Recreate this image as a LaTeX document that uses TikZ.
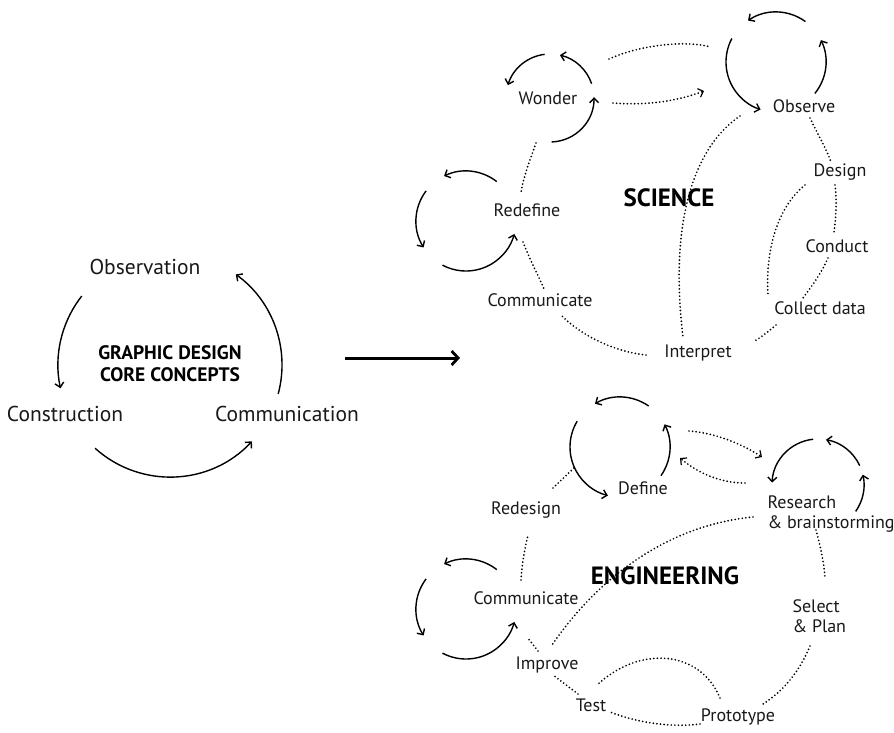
\documentclass[tikz,border=0pt]{standalone}
\usepackage{fontspec}
\setmainfont{PT Sans}
\usetikzlibrary{arrows.meta}
\begin{document}
\begin{tikzpicture}[x=1pt,y=-1pt,
  cyc/.style={line width=1.4pt,-{Straight Barb[length=4.5pt,width=9pt,line width=1.4pt]}},
  dots/.style={line width=1.9pt,line cap=round,dash pattern=on 0pt off 3.6pt},
  dotarrow/.style={dots,-{Straight Barb[length=4.5pt,width=9pt,line width=1.2pt]}},
  biglabel/.style={font=\fontsize{21.5}{24}\selectfont,text=black!90},
  lbl/.style={font=\fontsize{18}{20.5}\selectfont,text=black!90},
  title/.style={font=\fontsize{25}{28}\selectfont\bfseries,text=black},
  subtitle/.style={font=\fontsize{19.5}{22}\selectfont\bfseries,text=black,align=center}]
\useasboundingbox (0,0) rectangle (894,733);
\fill[white] (0,0) rectangle (894,733);

% ---------- left cycle ----------
\coordinate (L) at (170,365);
\node[biglabel] (obs) at (145,267) {Observation};
\node[biglabel] (cons) at (65,414) {Construction};
\node[biglabel] (comm) at (287,414) {Communication};
\node[subtitle] (gd) at (170,364) {GRAPHIC DESIGN\\CORE CONCEPTS};
\draw[cyc] ([shift={(-142:112)}]L) arc[start angle=-142,end angle=-192,radius=112];
\draw[cyc] ([shift={(15:112)}]L) arc[start angle=15,end angle=-54,radius=112];
\draw[cyc] ([shift={(-228:112)}]L) arc[start angle=-228,end angle=-317,radius=112];

% big arrow
\coordinate (ba) at (345,358);
\coordinate (bb) at (460,358);
\draw[line width=3pt,-{Straight Barb[length=6.5pt,width=14pt,line width=2.8pt]}] (ba) -- (bb);

% ---------- science ----------
\node[title] (sci) at (669,198) {SCIENCE};
\node[lbl] (wonder) at (548,98) {Wonder};
\node[lbl] (redef) at (527,210) {Redefine};
\node[lbl] (scomm) at (540,300) {Communicate};
\node[lbl] (interp) at (698,353) {Interpret};
\node[lbl] (observe) at (804,106) {Observe};
\node[lbl] (design) at (840,172) {Design};
\node[lbl] (conduct) at (837,246) {Conduct};
\node[lbl] (collect) at (820,308) {Collect data};

\coordinate (W) at (550,98);
\draw[cyc] ([shift={(-97:44)}]W) arc[start angle=-97,end angle=-163,radius=44];
\draw[cyc] ([shift={(-19:44)}]W) arc[start angle=-19,end angle=-77,radius=44];
\draw[cyc] ([shift={(88:44)}]W) arc[start angle=88,end angle=-1,radius=44];

\coordinate (R) at (466,221);
\draw[cyc] ([shift={(-52:50)}]R) arc[start angle=-52,end angle=-116,radius=50];
\draw[cyc] ([shift={(-143:50)}]R) arc[start angle=-143,end angle=-212,radius=50];
\draw[cyc] ([shift={(-242:50)}]R) arc[start angle=-242,end angle=-345,radius=50];

\coordinate (O) at (776,62);
\draw[cyc] ([shift={(-54:50)}]O) arc[start angle=-54,end angle=-124,radius=50];
\draw[cyc] ([shift={(-152:50)}]O) arc[start angle=-152,end angle=-252,radius=50];
\draw[cyc] ([shift={(39:50)}]O) arc[start angle=39,end angle=-26,radius=50];

\coordinate (s1a) at (609,59);   \coordinate (s1b) at (711,47);
\coordinate (s2a) at (613,103);  \coordinate (s2b) at (704,91);
\coordinate (s3a) at (740,116);  \coordinate (s3b) at (683,337);
\coordinate (s4a) at (810,118);  \coordinate (s4b) at (831,162);
\coordinate (s5a) at (835,185);  \coordinate (s5b) at (834,232);
\coordinate (s6a) at (828,258);  \coordinate (s6b) at (803,298);
\coordinate (s7a) at (805,185);  \coordinate (s7b) at (768,295);
\coordinate (s8a) at (776,325);  \coordinate (s8b) at (753,342);
\coordinate (s9a) at (646,355);  \coordinate (s9b) at (561,315);
\coordinate (s10a) at (523,242); \coordinate (s10b) at (545,291);
\coordinate (s11a) at (536,143); \coordinate (s11b) at (521,193);

\draw[dots] (s1a) .. controls (640,45) and (685,40) .. (s1b);
\draw[dotarrow] (s2a) .. controls (650,106) and (680,100) .. (s2b);
\draw[dots] (s3a) .. controls (690,150) and (670,230) .. (s3b);
\draw[dots] (s4a) .. controls (818,135) and (826,148) .. (s4b);
\draw[dots] (s5a) .. controls (837,200) and (836,218) .. (s5b);
\draw[dots] (s6a) .. controls (822,272) and (812,286) .. (s6b);
\draw[dots] (s7a) .. controls (780,205) and (765,245) .. (s7b);
\draw[dots] (s8a) .. controls (768,332) and (760,338) .. (s8b);
\draw[dots] (s9a) .. controls (615,352) and (580,335) .. (s9b);
\draw[dots] (s10a) .. controls (530,260) and (538,275) .. (s10b);
\draw[dots] (s11a) .. controls (530,160) and (523,178) .. (s11b);

% ---------- engineering ----------
\node[title] (eng) at (665,576) {ENGINEERING};
\node[lbl] (define) at (643,488) {Define};
\node[lbl,align=left,anchor=west] (research) at (764,514) {Research\\\& brainstorming};
\node[lbl,align=left,anchor=west] (select) at (789,616) {Select\\\& Plan};
\node[lbl] (proto) at (738,717) {Prototype};
\node[lbl] (test) at (591,705) {Test};
\node[lbl] (improve) at (547,665) {Improve};
\node[lbl] (ecomm) at (526,598) {Communicate};
\node[lbl] (redesign) at (526,510) {Redesign};

\coordinate (D) at (620,447);
\draw[cyc] ([shift={(-55:50)}]D) arc[start angle=-55,end angle=-120,radius=50];
\draw[cyc] ([shift={(-149:50)}]D) arc[start angle=-149,end angle=-256,radius=50];
\draw[cyc] ([shift={(35:50)}]D) arc[start angle=35,end angle=-27,radius=50];

\coordinate (Rs) at (818,485);
\draw[cyc] ([shift={(-96:46)}]Rs) arc[start angle=-96,end angle=-177,radius=46];
\draw[cyc] ([shift={(-25:46)}]Rs) arc[start angle=-25,end angle=-80,radius=46];
\draw[cyc] ([shift={(35:46)}]Rs) arc[start angle=35,end angle=-13,radius=46];

\coordinate (C2) at (466,609);
\draw[cyc] ([shift={(-52:50)}]C2) arc[start angle=-52,end angle=-116,radius=50];
\draw[cyc] ([shift={(-143:50)}]C2) arc[start angle=-143,end angle=-212,radius=50];
\draw[cyc] ([shift={(-242:50)}]C2) arc[start angle=-242,end angle=-345,radius=50];

\coordinate (e1a) at (689,431);  \coordinate (e1b) at (762,457);
\coordinate (e2a) at (745,483);  \coordinate (e2b) at (680,458);
\coordinate (e3a) at (753,517);  \coordinate (e3b) at (552,645);
\coordinate (e4a) at (816,530);  \coordinate (e4b) at (825,578);
\coordinate (e5a) at (810,646);  \coordinate (e5b) at (763,704);
\coordinate (e6a) at (700,724);  \coordinate (e6b) at (610,712);
\coordinate (e7a) at (720,698);  \coordinate (e7b) at (597,685);
\coordinate (e8a) at (578,694);  \coordinate (e8b) at (553,675);
\coordinate (e9a) at (538,651);  \coordinate (e9b) at (527,637);
\coordinate (e10a) at (521,580); \coordinate (e10b) at (528,535);
\coordinate (e11a) at (553,488); \coordinate (e11b) at (576,466);

\draw[dotarrow] (e1a) .. controls (715,433) and (740,443) .. (e1b);
\draw[dotarrow] (e2a) .. controls (720,483) and (698,473) .. (e2b);
\draw[dots] (e3a) .. controls (670,525) and (600,575) .. (e3b);
\draw[dots] (e4a) .. controls (820,545) and (824,562) .. (e4b);
\draw[dots] (e5a) .. controls (800,670) and (785,690) .. (e5b);
\draw[dots] (e6a) .. controls (670,728) and (635,722) .. (e6b);
\draw[dots] (e7a) .. controls (700,650) and (640,645) .. (e7b);
\draw[dots] (e8a) -- (e8b);
\draw[dots] (e9a) -- (e9b);
\draw[dots] (e10a) .. controls (522,562) and (525,548) .. (e10b);
\draw[dots] (e11a) -- (e11b);
\end{tikzpicture}
\end{document}
